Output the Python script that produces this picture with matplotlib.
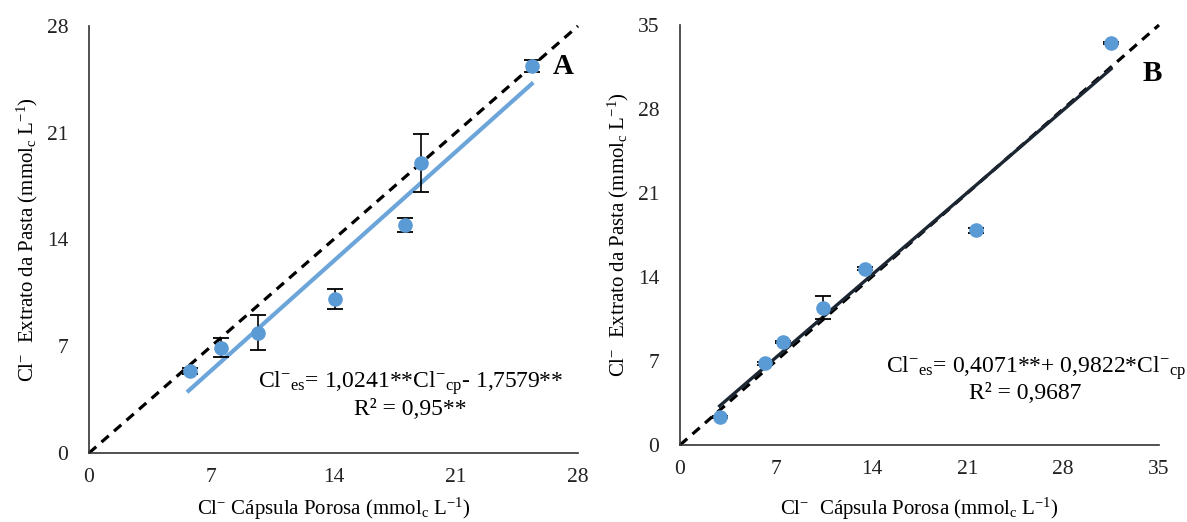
import matplotlib
matplotlib.use("Agg")
import matplotlib.pyplot as plt
import numpy as np

plt.rcParams['font.family'] = ['Liberation Serif', 'DejaVu Serif']
plt.rcParams['mathtext.fontset'] = 'custom'
plt.rcParams['mathtext.rm'] = 'Liberation Serif'
plt.rcParams['mathtext.it'] = 'Liberation Serif:italic'
plt.rcParams['mathtext.bf'] = 'Liberation Serif:bold'

# Panel A data
a_x = [5.8, 7.55, 9.7, 14.1, 18.1, 19.0, 25.35]
a_y = [5.35, 6.9, 7.9, 10.1, 14.95, 19.0, 25.4]
a_err = [0.2, 0.62, 1.17, 0.65, 0.45, 1.9, 0.4]
a_slope, a_inter = 1.0241, -1.7579
a_ticks = [0, 7, 14, 21, 28]

# Panel B data
b_x = [2.9, 6.2, 7.5, 10.45, 13.5, 21.6, 31.5]
b_y = [2.35, 6.8, 8.6, 11.45, 14.7, 17.9, 33.5]
b_err = [0.1, 0.15, 0.1, 0.95, 0.1, 0.2, 0.1]
b_slope, b_inter = 0.9822, 0.4071
b_ticks = [0, 7, 14, 21, 28, 35]

marker_color = '#5B9BD5'

fig = plt.figure(figsize=(11.87, 5.22), dpi=100)
axA = fig.add_axes([89/1187, 1-453/522, (578-89)/1187, (453-26)/522])
axB = fig.add_axes([680/1187, 1-445/522, (1159-680)/1187, (445-25)/522])

ylab = r'Cl$^{\mathregular{-}}$  Extrato da Pasta (mmol$_{\mathregular{c}}$ L$^{\mathregular{-1}}$)'

def style(ax, ticks):
    ax.set_xlim(ticks[0], ticks[-1])
    ax.set_ylim(ticks[0], ticks[-1])
    ax.set_xticks(ticks)
    ax.set_yticks(ticks)
    for s in ['top', 'right']:
        ax.spines[s].set_visible(False)
    for s in ['left', 'bottom']:
        ax.spines[s].set_color('#333333')
        ax.spines[s].set_linewidth(1.2)
    ax.tick_params(length=0, labelsize=15.5, colors='#222222')
    ax.tick_params(axis='x', pad=11)
    ax.tick_params(axis='y', pad=15)

# Panel A
style(axA, a_ticks)
axA.plot([0, 28], [0, 28], ls=(0, (3, 2.2)), color='black', lw=2.3, zorder=2, clip_on=False)
xf = np.array([min(a_x) - 0.1, max(a_x)])
axA.plot(xf, a_slope * xf + a_inter, color=marker_color, lw=3, zorder=3, alpha=0.9)
axA.errorbar(a_x, a_y, yerr=a_err, fmt='o', color=marker_color, ms=9.5,
             ecolor='black', elinewidth=1.2, capsize=6, capthick=1.3, zorder=4)
axA.set_ylabel(ylab, fontsize=15, labelpad=5)
axA.set_xlabel(r'Cl$^{\mathregular{-}}$ Cápsula Porosa (mmol$_{\mathregular{c}}$ L$^{\mathregular{-1}}$)',
               fontsize=15, labelpad=6)
axA.text(0.97, 0.905, 'A', transform=axA.transAxes, fontsize=21, fontweight='bold',
         ha='center', va='center')
axA.text(18.4, 4.6, r'Cl$^{\mathregular{-}}$$_{\mathregular{es}}$= 1,0241**Cl$^{\mathregular{-}}$$_{\mathregular{cp}}$- 1,7579**',
         fontsize=17, ha='center', va='center')
axA.text(18.4, 2.85, 'R² = 0,95**', fontsize=17, ha='center', va='center')

# Panel B
style(axB, b_ticks)
axB.plot([0, 35], [0, 35], ls=(0, (3, 2.2)), color='black', lw=2.3, zorder=2, clip_on=False)
xf = np.array([min(b_x), max(b_x)])
axB.plot(xf, b_slope * xf + b_inter, color='#1c2633', lw=2.4, zorder=3)
axB.errorbar(b_x, b_y, yerr=b_err, fmt='o', color=marker_color, ms=9.5,
             ecolor='black', elinewidth=1.2, capsize=6, capthick=1.3, zorder=4)
axB.set_ylabel(ylab, fontsize=15, labelpad=5)
axB.set_xlabel(r'Cl$^{\mathregular{-}}$  Cápsula Porosa (mmol$_{\mathregular{c}}$ L$^{\mathregular{-1}}$)',
               fontsize=15, labelpad=12)
axB.text(0.985, 0.885, 'B', transform=axB.transAxes, fontsize=21, fontweight='bold',
         ha='center', va='center')
axB.text(1186/1187, 1-368/522, r'Cl$^{\mathregular{-}}$$_{\mathregular{es}}$= 0,4071**+ 0,9822*Cl$^{\mathregular{-}}$$_{\mathregular{cp}}$',
         transform=fig.transFigure, fontsize=17, ha='right', va='center')
axB.text(25.2, 4.3, 'R² = 0,9687', fontsize=17, ha='center', va='center')

fig.savefig('out.png', dpi=100, facecolor='white')
